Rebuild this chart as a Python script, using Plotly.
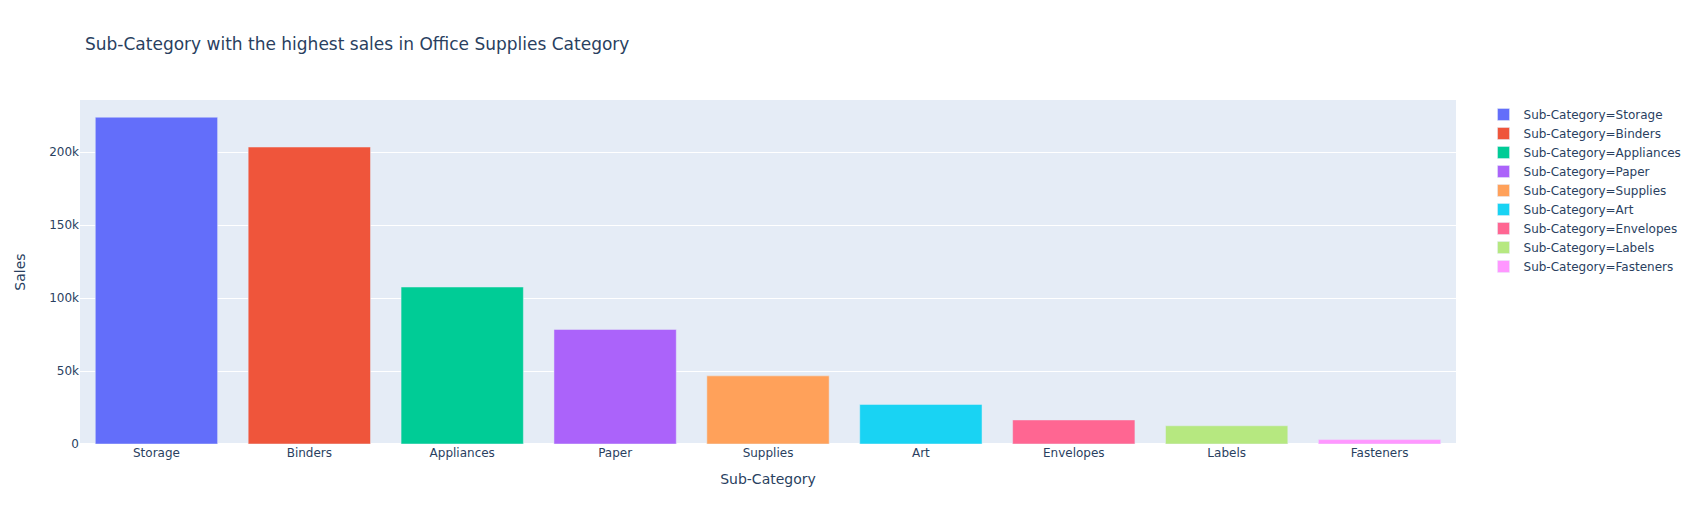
import plotly.graph_objects as go
import plotly.express as px

categories = ["Storage", "Binders", "Appliances", "Paper", "Supplies", "Art", "Envelopes", "Labels", "Fasteners"]
sales = [223843.608, 203412.733, 107532.161, 78479.206, 46673.538, 27118.792, 16476.402, 12486.312, 3024.28]
colors = px.colors.qualitative.Plotly

fig = go.Figure()
for i, (c, s) in enumerate(zip(categories, sales)):
    fig.add_trace(go.Bar(
        x=[c], y=[s], name=f"Sub-Category={c}", legendgroup=f"Sub-Category={c}",
        marker_color=colors[i % len(colors)], showlegend=True,
        hovertemplate="Sub-Category=%{x}<br>Sales=%{y}<extra></extra>",
    ))

# page body has an 8px margin; compensate so the plot area lands where the reference has it
W, H = 1691, 517
fig.update_layout(
    template="plotly",
    width=W, height=H,
    margin=dict(l=72, r=243, t=92, b=81),
    barmode="relative",
    title=dict(text="Sub-Category with the highest sales in Office Supplies Category",
               x=(85 - 8) / W, xanchor="left", y=1 - 36 / H, yanchor="middle"),
    font=dict(family="Verdana, DejaVu Sans, sans-serif"),
    xaxis=dict(title="Sub-Category", categoryorder="array", categoryarray=categories),
    yaxis=dict(title=dict(text="Sales", standoff=20), automargin=False),
    legend=dict(tracegroupgap=0),
)
fig.write_html("out.html")
